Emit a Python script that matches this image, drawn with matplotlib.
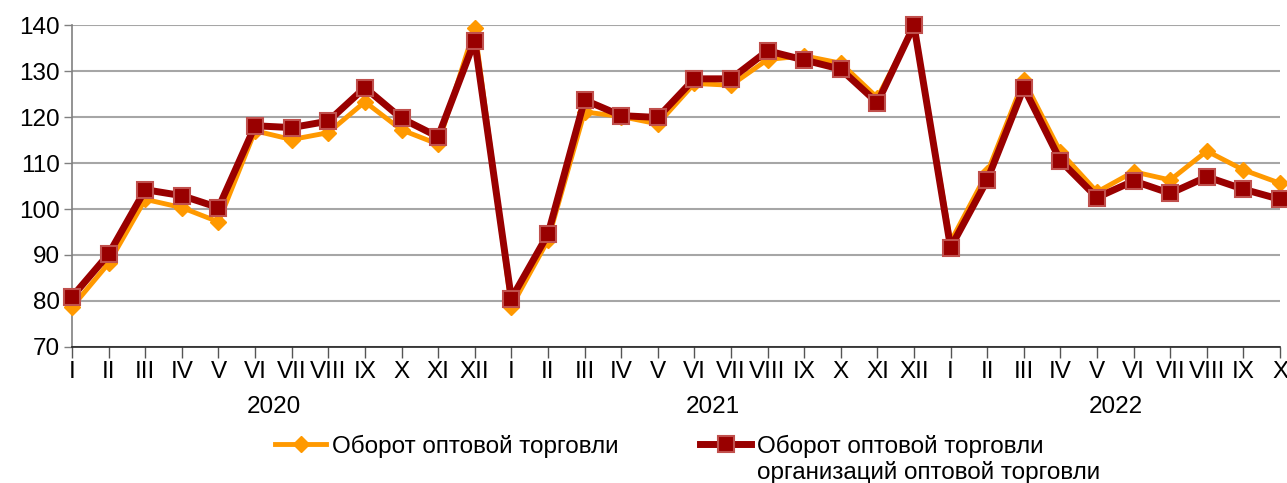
import matplotlib.pyplot as plt
import numpy as np

plt.rcParams['font.family'] = ['Liberation Sans', 'DejaVu Sans']

months_2020 = ['I', 'II', 'III', 'IV', 'V', 'VI', 'VII', 'VIII', 'IX', 'X', 'XI', 'XII']
months_2021 = ['I', 'II', 'III', 'IV', 'V', 'VI', 'VII', 'VIII', 'IX', 'X', 'XI', 'XII']
months_2022 = ['I', 'II', 'III', 'IV', 'V', 'VI', 'VII', 'VIII', 'IX', 'X']
years = ['2020', '2021', '2022']

# Оборот оптовой торговли
turnover_all = [78.7, 88.2, 102.1, 100.3, 97.2, 117.0, 115.1, 116.6, 123.3, 117.2, 114.1, 139.3,
                78.7, 93.2, 121.1, 120.1, 118.5, 127.3, 126.9, 132.5, 133.3, 131.7, 124.2, 139.5,
                92.9, 107.9, 128.0, 112.4, 103.7, 108.1, 106.3, 112.6, 108.5, 105.6]
# Оборот оптовой торговли организаций оптовой торговли
turnover_org = [80.9, 90.2, 104.2, 102.9, 100.3, 118.1, 117.7, 119.1, 126.4, 119.7, 115.7, 136.6,
                80.5, 94.5, 123.7, 120.3, 119.9, 128.3, 128.3, 134.4, 132.4, 130.4, 123.1, 139.9,
                91.6, 106.3, 126.4, 110.5, 102.5, 106.1, 103.4, 107.0, 104.3, 102.1]

labels = months_2020 + months_2021 + months_2022
x = np.arange(len(labels))
fs = 17.5

fig = plt.figure(figsize=(12.87, 4.83), dpi=100)
ax = fig.add_axes([0.056, 0.2816, 0.9386, 0.6666])

ax.plot(x, turnover_all, color='#FF9900', lw=3.5, marker='D', ms=8,
        mfc='#FF9900', mec='#FF9900', clip_on=False, zorder=3,
        label='Оборот оптовой торговли')
ax.plot(x, turnover_org, color='#990000', lw=5, marker='s', ms=11,
        mfc='#990000', mec='#C0504D', mew=1.5, clip_on=False, zorder=4,
        label='Оборот оптовой торговли')

ax.set_xlim(0, len(labels) - 1)
ax.set_ylim(70, 140)
ax.set_yticks(np.arange(70, 141, 10))
ax.yaxis.grid(True, color='#A6A6A6', lw=1.5)
ax.set_axisbelow(True)

ax.set_xticks(x)
ax.set_xticklabels(labels)
ax.tick_params(axis='x', length=8, width=1, color='#555555', labelsize=fs, pad=2)
ax.tick_params(axis='y', length=6, width=1, color='#808080', labelsize=fs, pad=3)

for s in ['top', 'right']:
    ax.spines[s].set_visible(False)
ax.spines['left'].set_color('#808080')
ax.spines['left'].set_linewidth(1.2)
ax.spines['bottom'].set_color('#222222')
ax.spines['bottom'].set_linewidth(1.2)

# year labels centred under their months
starts = [0, len(months_2020), len(months_2020) + len(months_2021)]
counts = [len(months_2020), len(months_2021), len(months_2022)]
for yr, st, n in zip(years, starts, counts):
    ax.text(st + (n - 1) / 2, -0.185, yr, transform=ax.get_xaxis_transform(),
            ha='center', va='center', fontsize=fs)

leg = fig.legend(loc='center left', bbox_to_anchor=(275 / 1287, 1 - 446 / 483), ncol=2,
                 frameon=False, fontsize=fs, handlelength=2.1, columnspacing=3.35,
                 handletextpad=0.25, borderaxespad=0, borderpad=0)

# second line of the second legend label
fig.canvas.draw()
bb = leg.get_texts()[1].get_window_extent()
fig.text(bb.x0 / 1287, 1 - 472 / 483, 'организаций оптовой торговли',
         ha='left', va='center', fontsize=fs)

fig.savefig('out.png', dpi=100)
